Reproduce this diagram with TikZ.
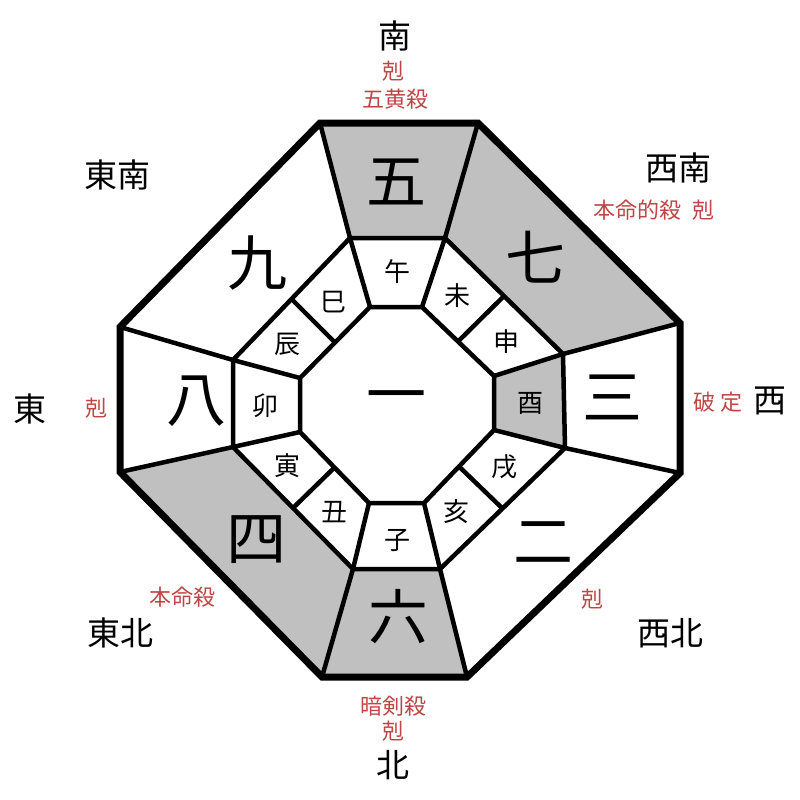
\documentclass[tikz,border=0pt]{standalone}
\usepackage{fontspec}
\usetikzlibrary{calc}
\setmainfont{Noto Sans CJK JP}
\definecolor{cellgray}{RGB}{192,192,192}
\definecolor{notered}{RGB}{190,70,70}
\tikzset{
  big/.style={inner sep=0pt, font=\fontsize{60}{60}\selectfont},
  branch/.style={inner sep=0pt, font=\fontsize{26}{26}\selectfont},
  dir/.style={inner sep=0pt, font=\fontsize{33}{33}\selectfont},
  note/.style={inner sep=0pt, text=notered, font=\fontsize{22}{22}\selectfont},
  grid/.style={line width=4.5pt, line join=miter},
  rim/.style={line width=7pt, line join=miter},
  shade/.style={fill=cellgray}
}
\begin{document}
\begin{tikzpicture}[x=1pt,y=-1pt]
\useasboundingbox (0,0) rectangle (800,800);
% outer octagon
\coordinate (O1) at (320,123); \coordinate (O2) at (478,123);
\coordinate (O3) at (680,323); \coordinate (O4) at (680,473);
\coordinate (O5) at (467,677); \coordinate (O6) at (322,677);
\coordinate (O7) at (120,472); \coordinate (O8) at (120,327);
% middle octagon
\coordinate (M1) at (350,238); \coordinate (M2) at (445,238);
\coordinate (M3) at (563,354); \coordinate (M4) at (565,448);
\coordinate (M5) at (440,569); \coordinate (M6) at (353,569);
\coordinate (M7) at (233,447); \coordinate (M8) at (233,360);
% inner octagon
\coordinate (I1) at (370,307); \coordinate (I2) at (422,307);
\coordinate (I3) at (494,376); \coordinate (I4) at (494,430);
\coordinate (I5) at (424,503); \coordinate (I6) at (369,503);
\coordinate (I7) at (300,432); \coordinate (I8) at (300,378);
% shaded cells
\fill[shade] (O1) -- (O2) -- (M2) -- (M1) -- cycle;
\fill[shade] (O2) -- (O3) -- (M3) -- (M2) -- cycle;
\fill[shade] (O7) -- (O6) -- (M6) -- (M7) -- cycle;
\fill[shade] (O6) -- (O5) -- (M5) -- (M6) -- cycle;
\fill[shade] (M3) -- (M4) -- (I4) -- (I3) -- cycle;
% grid lines
\draw[grid] (M1) -- (M2) -- (M3) -- (M4) -- (M5) -- (M6) -- (M7) -- (M8) -- cycle;
\draw[grid] (I1) -- (I2) -- (I3) -- (I4) -- (I5) -- (I6) -- (I7) -- (I8) -- cycle;
\foreach \k in {1,...,8} {
  \draw[grid] (O\k) -- (M\k);
  \draw[grid] (M\k) -- (I\k);
}
\draw[grid] ($(M2)!0.5!(M3)$) -- ($(I2)!0.5!(I3)$);
\draw[grid] ($(M4)!0.5!(M5)$) -- ($(I4)!0.5!(I5)$);
\draw[grid] ($(M6)!0.5!(M7)$) -- ($(I6)!0.5!(I7)$);
\draw[grid] ($(M8)!0.5!(M1)$) -- ($(I8)!0.5!(I1)$);
\draw[rim] (O1) -- (O2) -- (O3) -- (O4) -- (O5) -- (O6) -- (O7) -- (O8) -- cycle;
% big numbers
\node[big] (n5) at (396,182) {五};
\node[big] (n7) at (535,257) {七};
\node[big] (n9) at (257,263) {九};
\node[big] (n8) at (196,401) {八};
\node[big] (n1) at (396,404) {一};
\node[big] (n3) at (612,397) {三};
\node[big] (n4) at (256,540) {四};
\node[big] (n2) at (543,543) {二};
\node[big] (n6) at (398,617) {六};
% branches
\node[branch] (bwu) at (397,272) {午};
\node[branch] (bwei) at (457,296) {未};
\node[branch] (bshen) at (506,342) {申};
\node[branch] (byou) at (530,403) {酉};
\node[branch] (bxu) at (504,467) {戌};
\node[branch] (bhai) at (456,512) {亥};
\node[branch] (bzi) at (397,540) {子};
\node[branch] (bchou) at (334,512) {丑};
\node[branch] (byin) at (287,466) {寅};
\node[branch] (bmao) at (265,406) {卯};
\node[branch] (bchen) at (287,344) {辰};
\node[branch] (bsi) at (333,302) {巳};
% directions
\node[dir] (dS) at (395,36) {南};
\node[dir] (dSE) at (117,175) {東南};
\node[dir] (dSW) at (678,168) {西南};
\node[dir] (dE) at (30,409) {東};
\node[dir] (dW) at (770,401) {西};
\node[dir] (dNE) at (120,633) {東北};
\node[dir] (dNW) at (670,633) {西北};
\node[dir] (dN) at (393,765) {北};
% notes
\node[note] (tS1) at (393,71) {剋};
\node[note] (tS2) at (395,99) {五黄殺};
\node[note] (tSW) at (654,210) {本命的殺\hspace{0.5em}剋};
\node[note] (tE) at (96,408) {剋};
\node[note] (tW) at (718,402) {破\hspace{0.25em}定};
\node[note] (tNE) at (182,597) {本命殺};
\node[note] (tNW) at (592,599) {剋};
\node[note] (tN1) at (393,706) {暗剣殺};
\node[note] (tN2) at (393,731) {剋};
\end{tikzpicture}
\end{document}
